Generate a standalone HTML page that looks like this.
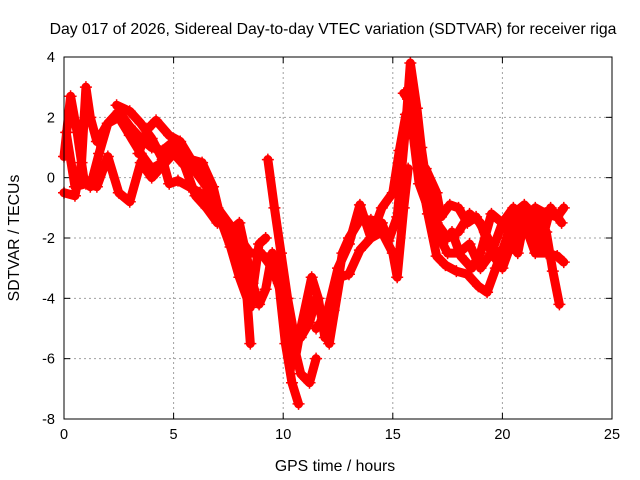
<!DOCTYPE html>
<html><head><meta charset="utf-8">
<style>
body{margin:0;background:#fff;}
svg{display:block;font-family:"Liberation Sans",sans-serif;}
</style></head>
<body>
<svg id="chart" width="640" height="480" viewBox="0 0 640 480">
<text x="333" y="34" font-size="15.8" text-anchor="middle" fill="#000">Day 017 of 2026, Sidereal Day-to-day VTEC variation (SDTVAR) for receiver riga</text>
<text x="335" y="471" font-size="15.8" text-anchor="middle" fill="#000">GPS time / hours</text>
<text transform="translate(19,238) rotate(-90)" font-size="15.8" text-anchor="middle" fill="#000">SDTVAR / TECUs</text>
<g id="grid"></g>
<g id="ticks"></g>
<g id="series"></g>
<rect x="64" y="57" width="548" height="362" fill="none" stroke="#000" stroke-width="1"/>
</svg>
<script>
const xTicks=[0,5,10,15,20,25];
const yTicks=[4,2,0,-2,-4,-6,-8];
const tA=[[0,0.7],[0.3,2.7],[0.6,1.5],[0.9,0],[1.2,-0.3],[1.6,0.8],[2.0,1.8],[2.5,2.2],[3,1.7],[3.5,1.3],[4,1],[4.5,0.9],[5,1.2],[5.5,0.6],[6,0.2],[6.5,-0.3],[7,-1.2],[7.5,-1.8],[8,-1.5],[8.3,-2.5],[8.6,-3.5],[8.9,-4.2],[9.2,-3.7],[9.5,-2.5],[9.8,-3.5],[10.1,-5.5],[10.4,-6.8],[10.7,-7.5]];
const tB=[[0,-0.5],[0.5,-0.6],[0.8,0.5],[1.0,3.0],[1.2,2.0],[1.5,1.2],[2,1.8],[2.5,2.0],[3,1.4],[3.5,0.8],[4,0.3],[4.5,0.5],[5,1],[5.5,0.7],[6,0.5],[6.5,0],[7,-1],[7.5,-1.5],[8,-2.3],[8.3,-3.5],[8.5,-5.5]];
const tC=[[0.1,1.5],[0.5,-0.3],[1,-0.2],[1.5,-0.3],[2,0.7],[2.5,-0.5],[3,-0.8],[3.5,0.5],[4,0],[4.5,0.4],[5,0.8],[5.5,0.4],[6,-0.6],[6.5,-1],[7,-1.5],[7.5,-1.5],[8,-2],[8.5,-2.5],[9,-2.5],[9.5,-3],[10,-4],[10.3,-5],[10.8,-6.5],[11.2,-6.8],[11.5,-6]];
const tD=[[2.4,2.4],[3,2.2],[3.5,1.8],[4,1.3],[4.5,0.6],[4.8,-0.2],[5.2,-0.1],[5.7,-0.3],[6.2,-0.5],[6.7,-1],[7.2,-1.3],[7.6,-2.2]];
const tE=[[3.4,0.8],[3.8,1.6],[4.2,1.9],[4.8,1.4],[5.3,1.2],[5.8,0.6],[6.3,0.5],[6.8,-0.3],[7.2,-1.5],[7.6,-2.3],[8,-3.3],[8.5,-4.3],[8.9,-2.2],[9.2,-2.0]];
const tF=[[9.3,0.6],[9.6,-1],[9.9,-2.5],[10.2,-4],[10.5,-5.2],[10.8,-5.3],[11.2,-4.8],[11.5,-4],[11.8,-4.7],[12.1,-5.5],[12.6,-3.3],[13,-3.2],[13.5,-2.4],[14,-2],[14.5,-1.8],[15,-2.5],[15.2,-3.3],[15.5,-1],[15.7,0.3]];
const tG=[[10.5,-6.2],[10.8,-5],[11.3,-3.3],[11.6,-4],[11.9,-5.3],[12.3,-4.4],[12.7,-2.5],[13,-2],[13.5,-1.4],[14,-1.4],[14.5,-1.5],[14.8,-2.1],[15.2,-1.3],[15.6,1.8],[15.8,3.8],[16.1,2.3],[16.3,1],[16.6,-0.5],[17,-1.5],[17.5,-2],[18,-1.8],[18.5,-1.2],[19,-1.5],[19.5,-2.5],[20,-3],[20.5,-2],[21,-1.3],[21.5,-1],[22,-1.2],[22.5,-1.3],[22.8,-1]];
const tH=[[11.5,-5],[12,-4.5],[12.5,-3],[13,-2.2],[13.5,-0.9],[14,-2],[14.5,-1],[15,-0.5],[15.3,0.9],[15.6,2.1],[15.9,1.6],[16.2,-0.2],[16.7,-1.2],[17,-1.8],[17.5,-2.5],[18,-2.5],[18.5,-2.2],[19,-3],[19.5,-2.5],[20,-1.5],[20.5,-1],[21,-1.5],[21.5,-2.5],[22,-2.5],[22.5,-2.6],[22.8,-2.8]];
const tI=[[15.5,2.8],[15.7,2.6],[16,1.3],[16.3,0],[16.6,-1.2],[17,-2.6],[17.4,-2.9],[17.9,-3.1],[18.4,-3.2],[18.9,-3.6],[19.3,-3.8],[19.7,-3],[20.2,-2],[20.7,-2.5],[21,-1.4],[21.5,-1.1],[22,-1.8],[22.3,-3.1],[22.6,-4.2]];
const tJ=[[16.5,0.3],[17,-0.5],[17.2,-1.3],[17.6,-0.9],[18,-1],[18.4,-1.5],[18.8,-1.3],[19.2,-1.8],[19.6,-2.4],[20,-2.5],[20.5,-1.2],[21,-0.9],[21.5,-1.3],[21.8,-2.1],[22.2,-1],[22.7,-1.5]];
const tK=[[17.7,-1.8],[18.1,-2.6],[18.6,-3],[19,-2.5],[19.5,-1.2],[20,-1.5],[20.5,-2],[21,-1],[21.5,-2],[22,-2.5],[22.5,-2.6]];
const tracks=[tA,tB,tC,tD,tE,tF,tG,tH,tI,tJ,tK];

const NS="http://www.w3.org/2000/svg";
const X0=64,X1=612,Y0=57,Y1=419;
function sx(h){return X0+(h-0)/(25-0)*(X1-X0);}
function sy(v){return Y1-(v-(-8))/(4-(-8))*(Y1-Y0);}
const grid=document.getElementById('grid'),ticks=document.getElementById('ticks'),series=document.getElementById('series');
function mk(tag,attrs,parent){const e=document.createElementNS(NS,tag);for(const k in attrs)e.setAttribute(k,attrs[k]);parent.appendChild(e);return e;}
xTicks.forEach(t=>{
  const x=sx(t);
  if(t>0&&t<25){const g=mk('line',{x1:x,x2:x,y1:Y0,y2:Y1,stroke:'#a0a0a0','stroke-dasharray':'2,3'},grid);
  
  }
  mk('line',{x1:x,x2:x,y1:Y1,y2:Y1-6,stroke:'#000'},ticks);
  mk('line',{x1:x,x2:x,y1:Y0,y2:Y0+6,stroke:'#000'},ticks);
  const l=mk('text',{x:x,y:Y1+20,'font-size':14.5,'text-anchor':'middle'},ticks);
  l.textContent=t;
  
  
});
yTicks.forEach(t=>{
  const y=sy(t);
  if(t>-8&&t<4){const g=mk('line',{x1:X0,x2:X1,y1:y,y2:y,stroke:'#a0a0a0','stroke-dasharray':'2,3'},grid);
  
  }
  mk('line',{x1:X0,x2:X0+6,y1:y,y2:y,stroke:'#000'},ticks);
  mk('line',{x1:X1,x2:X1-6,y1:y,y2:y,stroke:'#000'},ticks);
  const l=mk('text',{x:X0-9,y:y+5,'font-size':14.5,'text-anchor':'end'},ticks);
  l.textContent=t;
  
  
});
tracks.forEach((tr,i)=>{
  const pts=tr.map(p=>sx(p[0])+','+sy(p[1])).join(' ');
  const pl=mk('polyline',{points:pts,fill:'none',stroke:'#ff0000','stroke-width':9,'stroke-linejoin':'round','stroke-linecap':'round'},series);
  
  
  tr.forEach(p=>{
    const x=sx(p[0]),y=sy(p[1]);
    const m=mk('path',{d:`M${x-6},${y}H${x+6}M${x},${y-6}V${y+6}`,stroke:'#ff0000','stroke-width':1.5},series);
    
    
  });
});
</script>
</body></html>
